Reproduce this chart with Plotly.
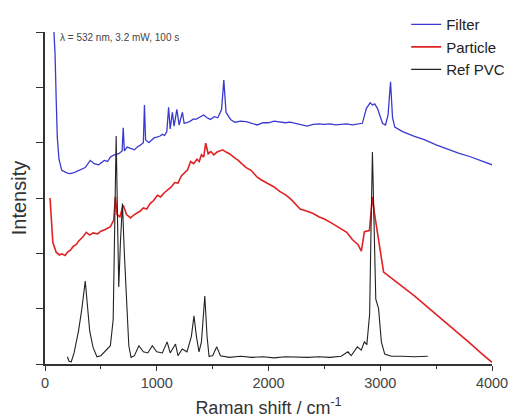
import plotly.graph_objects as go

# Raman shift (cm^-1) and stacked intensity (offset units) for each spectrum
filter_shift = [80, 90, 100, 110, 125, 150, 200, 225, 260, 300, 330, 360, 405, 440, 480,
                510, 530, 560, 585, 620, 660, 690, 700, 710, 735, 760, 800, 830, 850, 880,
                890, 900, 930, 950, 980, 1000, 1030, 1050, 1070, 1090, 1106, 1120, 1140,
                1155, 1180, 1200, 1230, 1245, 1270, 1300, 1330, 1350, 1390, 1420, 1450,
                1480, 1515, 1546, 1580, 1600, 1620, 1660, 1700, 1750, 1800, 1850, 1900,
                1950, 2000, 2050, 2100, 2150, 2193, 2250, 2300, 2346, 2400, 2450, 2500,
                2550, 2600, 2650, 2700, 2750, 2800, 2840, 2876, 2910, 2930, 2950, 2975,
                3020, 3047, 3070, 3092, 3110, 3130, 3200, 3300, 3400, 3500, 3600, 3700,
                3800, 3900, 4000]
filter_int = [6.0, 5.6, 4.8, 4.1, 3.7, 3.5, 3.45, 3.44, 3.46, 3.5, 3.52, 3.55, 3.68, 3.62,
              3.6, 3.64, 3.68, 3.66, 3.74, 3.78, 3.8, 3.85, 4.27, 3.85, 3.92, 3.9, 3.87,
              3.93, 3.95, 4.0, 4.68, 4.05, 4.0, 4.04, 4.09, 4.1, 4.12, 4.15, 4.13, 4.2,
              4.64, 4.25, 4.55, 4.3, 4.6, 4.32, 4.55, 4.35, 4.36, 4.39, 4.43, 4.42, 4.46,
              4.5, 4.45, 4.42, 4.47, 4.45, 4.6, 5.13, 4.55, 4.42, 4.37, 4.39, 4.38, 4.35,
              4.32, 4.36, 4.36, 4.39, 4.38, 4.36, 4.37, 4.34, 4.32, 4.3, 4.33, 4.34,
              4.33, 4.34, 4.32, 4.33, 4.34, 4.32, 4.33, 4.35, 4.62, 4.72, 4.68, 4.7,
              4.62, 4.35, 4.32, 4.5, 5.1, 4.45, 4.28, 4.2, 4.12, 4.05, 3.96, 3.88, 3.81,
              3.75, 3.68, 3.6]

particle_shift = [45, 55, 70, 100, 130, 150, 180, 200, 230, 250, 280, 300, 340, 370, 400,
                  430, 470, 500, 540, 585, 615, 630, 645, 670, 700, 730, 765, 800, 820,
                  850, 880, 910, 940, 970, 1006, 1034, 1070, 1100, 1130, 1160, 1190, 1220,
                  1250, 1276, 1303, 1330, 1360, 1380, 1400, 1420, 1438, 1460, 1485, 1510,
                  1540, 1560, 1590, 1620, 1650, 1700, 1730, 1760, 1800, 1843, 1897, 1933,
                  2000, 2050, 2100, 2150, 2200, 2283, 2346, 2400, 2450, 2500, 2562, 2650,
                  2700, 2750, 2800, 2831, 2858, 2903, 2930, 2950, 2980, 3030, 3100, 3200,
                  3300, 3400, 3500, 3600, 3700, 3800, 3900, 4000]
particle_int = [3.0, 2.6, 2.2, 2.02, 1.97, 1.99, 1.96, 2.02, 2.06, 2.12, 2.16, 2.22, 2.3,
                2.38, 2.33, 2.37, 2.35, 2.4, 2.43, 2.48, 2.6, 3.02, 2.7, 2.66, 2.87, 2.7,
                2.64, 2.7, 2.72, 2.76, 2.82, 2.8, 2.9, 2.95, 3.05, 3.02, 3.1, 3.15, 3.2,
                3.28, 3.27, 3.4, 3.45, 3.51, 3.66, 3.62, 3.7, 3.66, 3.78, 3.74, 3.99,
                3.8, 3.84, 3.78, 3.83, 3.85, 3.87, 3.83, 3.8, 3.72, 3.68, 3.62, 3.55,
                3.5, 3.38, 3.33, 3.25, 3.2, 3.12, 3.06, 2.98, 2.8, 2.76, 2.72, 2.66,
                2.62, 2.55, 2.44, 2.38, 2.25, 2.16, 2.04, 2.39, 2.41, 3.02, 2.7, 2.3,
                1.66, 1.55, 1.4, 1.24, 1.07, 0.9, 0.72, 0.55, 0.38, 0.2, 0.03]

pvc_shift = [200, 215, 235, 260, 300, 330, 360, 380, 400, 430, 465, 500, 550, 585, 610,
             625, 637, 650, 660, 675, 693, 710, 730, 750, 770, 800, 840, 880, 920, 960,
             1000, 1050, 1093, 1120, 1168, 1190, 1228, 1270, 1310, 1333, 1355, 1378,
             1400, 1430, 1450, 1468, 1500, 1537, 1570, 1650, 1750, 1850, 1950, 2050,
             2150, 2250, 2350, 2450, 2550, 2650, 2710, 2740, 2795, 2830, 2858, 2880,
             2905, 2918, 2930, 2945, 2960, 2985, 3010, 3040, 3100, 3200, 3300, 3425]
pvc_int = [0.13, 0.05, 0.04, 0.2, 0.6, 1.0, 1.5, 1.1, 0.6, 0.3, 0.13, 0.15, 0.25, 0.33,
           0.8, 2.5, 4.12, 2.5, 1.39, 2.2, 2.9, 2.0, 1.0, 0.33, 0.12, 0.15, 0.33, 0.22,
           0.2, 0.33, 0.22, 0.2, 0.4, 0.2, 0.36, 0.15, 0.27, 0.22, 0.5, 0.87, 0.5, 0.22,
           0.4, 1.23, 0.5, 0.14, 0.15, 0.31, 0.15, 0.12, 0.14, 0.12, 0.13, 0.11, 0.13,
           0.12, 0.12, 0.13, 0.12, 0.14, 0.22, 0.15, 0.31, 0.25, 0.4, 0.35, 0.9, 2.5,
           3.83, 2.5, 1.17, 1.0, 0.4, 0.18, 0.14, 0.14, 0.13, 0.14]

x_ticks = [0, 1000, 2000, 3000, 4000]

fig = go.Figure()
fig.add_trace(go.Scatter(x=filter_shift, y=filter_int, mode="lines", name="Filter",
                         line=dict(color="#3a3ad0", width=1.3)))
fig.add_trace(go.Scatter(x=particle_shift, y=particle_int, mode="lines", name="Particle",
                         line=dict(color="#e02222", width=1.6)))
fig.add_trace(go.Scatter(x=pvc_shift, y=pvc_int, mode="lines", name="Ref PVC",
                         line=dict(color="#222222", width=1.1)))

axis_color = "#333333"
fig.update_layout(
    width=516, height=419,
    margin=dict(l=45, r=24, t=32, b=55, autoexpand=False),
    plot_bgcolor="white", paper_bgcolor="white",
    font=dict(family="Liberation Sans, Arial, sans-serif", color="#333333", size=12),
    showlegend=True,
    legend=dict(x=0.808, y=1.072, xanchor="left", yanchor="top",
                bgcolor="rgba(0,0,0,0)", font=dict(size=15, color="#222222"),
                tracegroupgap=0),
    xaxis=dict(range=[0, 4000], tickvals=x_ticks, ticktext=[str(v) for v in x_ticks],
               showgrid=False, zeroline=False, showline=True, linecolor=axis_color,
               linewidth=1.5, ticks="outside", ticklen=5, tickcolor=axis_color,
               tickfont=dict(size=14.5, color="#444444"), automargin=False,
               minor=dict(dtick=500, ticks="outside", ticklen=3, tickcolor=axis_color),
               title=dict(text="Raman shift / cm<sup>-1</sup>", standoff=11,
                          font=dict(size=18, color="#333333"))),
    yaxis=dict(range=[0, 6], dtick=1, showgrid=False, zeroline=False, showline=True,
               linecolor=axis_color, linewidth=1.5, ticks="outside", ticklen=7,
               tickcolor=axis_color, showticklabels=False, automargin=False,
               title=dict(text="Intensity", standoff=4,
                          font=dict(size=20, color="#333333"))),
)

fig.add_annotation(x=0.029, y=0.982, xref="paper", yref="paper", xanchor="left",
                   yanchor="middle", showarrow=False, text="λ = 532 nm, 3.2 mW, 100 s",
                   font=dict(size=10, color="#444444"))

fig.write_html("out.html")
